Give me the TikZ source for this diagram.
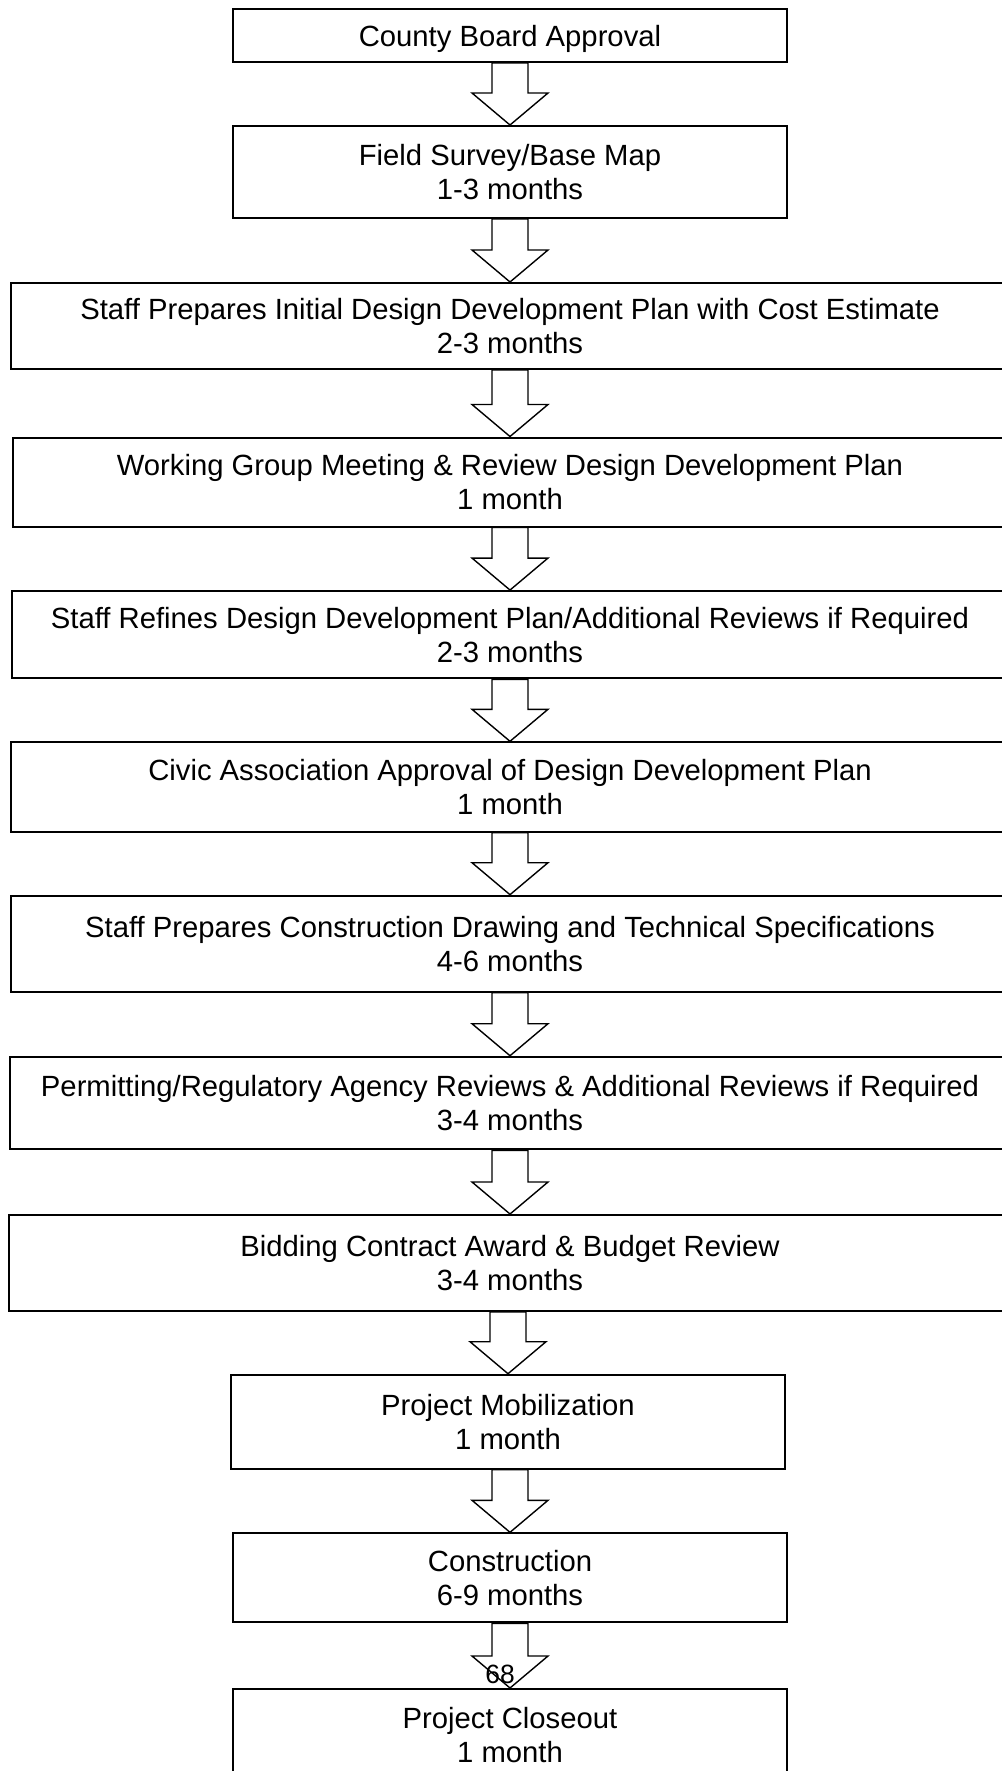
\documentclass[tikz,border=0pt]{standalone}
\usepackage{fontspec}
\setmainfont{Liberation Sans}
\usetikzlibrary{calc}

\def\px{0.025cm}
\tikzset{
  stage/.style={draw, line width=2*\px, inner sep=0pt, align=center,
    font=\fontsize{20.8}{24}\selectfont},
  narrow/.style={stage, minimum width=554*\px},
  blockarrow/.style={draw, line width=1.4*\px, line join=miter},
  pagenum/.style={inner sep=0pt, font=\fontsize{18.8}{22}\selectfont}
}
% open block arrow from the bottom of one stage to the top of the next
\newcommand{\flowarrow}[2]{%
  \draw[blockarrow] ($(#2.north |- #1.south)+(-18,0)$) -- ($(#2.north)+(-18,-32)$)
    -- ($(#2.north)+(-38,-32)$) -- (#2.north) -- ($(#2.north)+(38,-32)$)
    -- ($(#2.north)+(18,-32)$) -- ($(#2.north |- #1.south)+(18,0)$) -- cycle;}

\begin{document}
\begin{tikzpicture}[x=\px, y=-\px]
		\useasboundingbox (0,0) rectangle (1001,1771);
		% the stages
		\node[narrow, minimum height=53*\px, text depth=0pt] (board) at (510,35.5) {County Board Approval};
		\node[narrow, minimum height=92*\px] (survey) at (510,172) {Field Survey/Base Map\\1-3 months};
		\node[stage, minimum width=998*\px, minimum height=86*\px] (initial) at (510,326)
			{Staff Prepares Initial Design Development Plan with Cost Estimate\\2-3 months};
		\node[stage, minimum width=994*\px, minimum height=89*\px] (working) at (510,482)
			{Working Group Meeting \& Review Design Development Plan\\1 month};
		\node[stage, minimum width=997*\px, minimum height=87.3*\px] (refine) at (510,634.7)
			{Staff Refines Design Development Plan/Additional Reviews if Required\\2-3 months};
		\node[stage, minimum width=998*\px, minimum height=89.4*\px] (civic) at (510,787)
			{Civic Association Approval of Design Development Plan\\1 month};
		\node[stage, minimum width=998*\px, minimum height=96*\px] (drawings) at (510,943.7)
			{Staff Prepares Construction Drawing and Technical Specifications\\4-6 months};
		\node[stage, minimum width=1001*\px, minimum height=92.6*\px] (permit) at (510,1103)
			{Permitting/Regulatory Agency Reviews \& Additional Reviews if Required\\3-4 months};
		\node[stage, minimum width=1002*\px, minimum height=96*\px] (bidding) at (510,1263)
			{Bidding Contract Award \& Budget Review\\3-4 months};
		\node[narrow, minimum height=94*\px] (mobil) at (508,1421.7) {Project Mobilization\\1 month};
		\node[narrow, minimum height=89*\px] (constr) at (510,1577.8) {Construction\\6-9 months};
		\node[narrow, minimum height=92*\px] (closeout) at (510,1735) {Project Closeout\\1 month};
		% the arrows
		\flowarrow{board}{survey}
		\flowarrow{survey}{initial}
		\flowarrow{initial}{working}
		\flowarrow{working}{refine}
		\flowarrow{refine}{civic}
		\flowarrow{civic}{drawings}
		\flowarrow{drawings}{permit}
		\flowarrow{permit}{bidding}
		\flowarrow{bidding}{mobil}
		\flowarrow{mobil}{constr}
		\flowarrow{constr}{closeout}
		% page number
		\node[pagenum] (page) at (500,1674.5) {68};
	\end{tikzpicture}
\end{document}
